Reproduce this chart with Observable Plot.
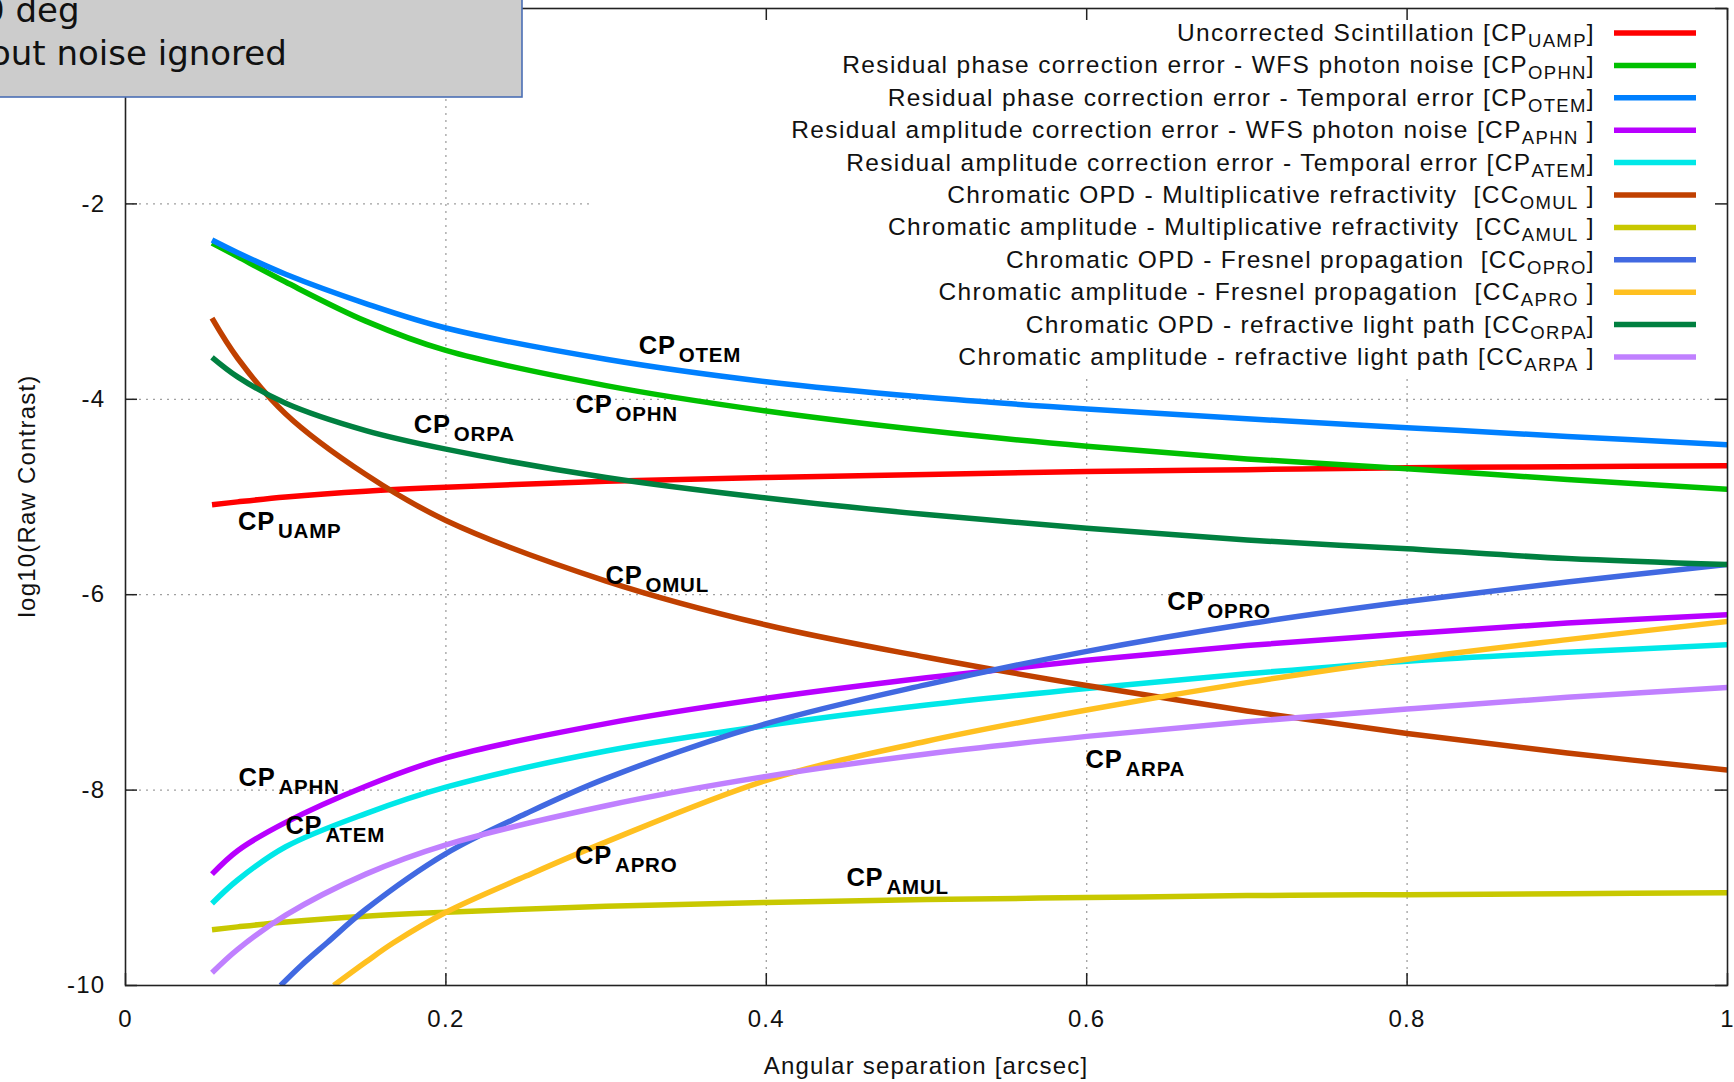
<!DOCTYPE html>
<html><head><meta charset="utf-8">
<script src="https://cdn.jsdelivr.net/npm/d3@7"></script>
<script src="https://cdn.jsdelivr.net/npm/@observablehq/plot@0.6"></script>
<style>
html,body{margin:0;padding:0;background:#fff;}
#wrap{position:relative;width:1734px;height:1082px;overflow:hidden;}
#note{position:absolute;left:0;top:0;}
</style></head>
<body><div id="wrap"><div id="chart"></div></div>
<script>
// ---- data ----
const xs = [0.054, 0.07, 0.1, 0.15, 0.2, 0.3, 0.4, 0.5, 0.6, 0.7, 0.8, 0.9, 1.0];
const uamp = [-5.08, -5.05, -5.00, -4.94, -4.90, -4.84, -4.80, -4.77, -4.74, -4.72, -4.70, -4.69, -4.68];
const ophn = [-2.40, -2.54, -2.80, -3.20, -3.50, -3.86, -4.12, -4.32, -4.48, -4.61, -4.71, -4.82, -4.92];
const otem = [-2.37, -2.50, -2.72, -3.02, -3.27, -3.59, -3.82, -3.98, -4.10, -4.20, -4.29, -4.38, -4.465];
const aphn = [-8.86, -8.62, -8.33, -7.96, -7.67, -7.32, -7.06, -6.85, -6.67, -6.52, -6.40, -6.29, -6.205];
const atem = [-9.16, -8.92, -8.58, -8.24, -7.97, -7.60, -7.34, -7.13, -6.96, -6.81, -6.68, -6.59, -6.513];
const omul = [-3.17, -3.58, -4.15, -4.77, -5.24, -5.86, -6.31, -6.64, -6.93, -7.19, -7.42, -7.62, -7.795];
const amul = [-9.43, -9.40, -9.35, -9.29, -9.25, -9.19, -9.15, -9.12, -9.10, -9.08, -9.07, -9.06, -9.05];
const oproX = [0.0968, 0.11, 0.126, 0.15, 0.2, 0.25, 0.3, 0.4, 0.5, 0.6, 0.7, 0.8, 0.9, 1.0];
const opro = [-10.0, -9.79, -9.56, -9.22, -8.65, -8.24, -7.88, -7.32, -6.92, -6.58, -6.30, -6.07, -5.87, -5.69];
const aproX = [0.130, 0.15, 0.1675, 0.2, 0.25, 0.3, 0.4, 0.5, 0.6, 0.7, 0.8, 0.9, 1.0];
const apro = [-10.0, -9.76, -9.56, -9.25, -8.88, -8.53, -7.90, -7.50, -7.18, -6.90, -6.66, -6.46, -6.274];
const orpa = [-3.57, -3.77, -4.04, -4.32, -4.51, -4.80, -5.01, -5.18, -5.32, -5.44, -5.53, -5.63, -5.692];
const arpa = [-9.87, -9.63, -9.28, -8.86, -8.56, -8.16, -7.86, -7.63, -7.45, -7.30, -7.17, -7.05, -6.95];

const codes = ["UAMP","OPHN","OTEM","APHN","ATEM","OMUL","AMUL","OPRO","APRO","ORPA","ARPA"];
const colors = ["#ff0000","#00c000","#0080ff","#b800ff","#00e8e8","#c04000","#c8c800","#4169e1","#ffc020","#008040","#c080ff"];
const legendMain = [
  "Uncorrected Scintillation [CP",
  "Residual phase correction error - WFS photon noise [CP",
  "Residual phase correction error - Temporal error [CP",
  "Residual amplitude correction error - WFS photon noise [CP",
  "Residual amplitude correction error - Temporal error [CP",
  "Chromatic OPD - Multiplicative refractivity  [CC",
  "Chromatic amplitude - Multiplicative refractivity  [CC",
  "Chromatic OPD - Fresnel propagation  [CC",
  "Chromatic amplitude - Fresnel propagation  [CC",
  "Chromatic OPD - refractive light path [CC",
  "Chromatic amplitude - refractive light path [CC"];
const legendTail = ["]","]","]"," ]","]"," ]"," ]","]"," ]","]"," ]"];
const labelX = [0.0702, 0.2809, 0.3204, 0.0705, 0.0998, 0.2996, 0.450, 0.6503, 0.2806, 0.180, 0.5992];
const labelY = [-5.334, -4.137, -3.539, -7.956, -8.452, -5.886, -8.978, -6.158, -8.753, -4.342, -7.778];
const xTicks = [0, 0.2, 0.4, 0.6, 0.8, 1];
const yTicks = [-10, -8, -6, -4, -2, 0];
const yTickLabels = [-10, -8, -6, -4, -2];
const xGrid = [0.2, 0.4, 0.6, 0.8];
const yGrid = [-8, -6, -4, -2];

// ---- build table ----
const yByCode = {UAMP: uamp, OPHN: ophn, OTEM: otem, APHN: aphn, ATEM: atem, OMUL: omul, AMUL: amul, OPRO: opro, APRO: apro, ORPA: orpa, ARPA: arpa};
const xByCode = {OPRO: oproX, APRO: aproX};
const rows = [];
codes.forEach((c) => {
  const xv = xByCode[c] || xs;
  yByCode[c].forEach((v, j) => rows.push({code: c, x: xv[j], y: v}));
});
const labels = codes.map((c, i) => ({code: c, x: labelX[i], y: labelY[i]}));

const FONT = "'Liberation Sans', Arial, Helvetica, sans-serif";
const cpSize = 25.5, subSize = 20.5;

const chart = Plot.plot({
  width: 1734, height: 1082,
  marginLeft: 125, marginRight: 7, marginTop: 8, marginBottom: 97,
  x: {domain: [0, 1]},
  y: {domain: [-10, 0]},
  color: {domain: codes, range: colors},
  style: {fontFamily: FONT, color: "#111", background: "#fff", overflow: "visible"},
  marks: [
    Plot.ruleX(xGrid, {x: d => d, stroke: "#a0a0a0", strokeWidth: 1.3, strokeDasharray: "2,5"}),
    Plot.ruleY(yGrid, {y: d => d, stroke: "#a0a0a0", strokeWidth: 1.3, strokeDasharray: "2,5"}),
    Plot.line(rows, {x: "x", y: "y", z: "code", stroke: "code", strokeWidth: 5.5, curve: "catmull-rom", strokeLinecap: "butt", clip: true}),
    Plot.text(labels, {x: "x", y: "y", text: () => "CP", textAnchor: "start", fontSize: cpSize, fontWeight: "bold", fill: "#000", dy: -0.32 * cpSize}),
    Plot.text(labels, {x: "x", y: "y", text: "code", textAnchor: "start", fontSize: subSize, fontWeight: "bold", fill: "#000", dx: 40, dy: 8 - 0.32 * subSize}),
    Plot.tickX(xTicks, {x: d => d, insetTop: 965, stroke: "#222", strokeWidth: 1.5}),
    Plot.tickX(xTicks, {x: d => d, insetBottom: 965, stroke: "#222", strokeWidth: 1.5}),
    Plot.tickY(yTicks, {y: d => d, insetRight: 1590, stroke: "#222", strokeWidth: 1.5}),
    Plot.tickY(yTicks, {y: d => d, insetLeft: 1590, stroke: "#222", strokeWidth: 1.5}),
    Plot.frame({stroke: "#222", strokeWidth: 1.6}),
    Plot.axisX(xTicks, {tickSize: 0, tickPadding: 24, fontSize: 24, tickFormat: d => String(d), label: null}),
    Plot.axisY(yTickLabels, {tickSize: 0, tickPadding: 20, fontSize: 24, tickFormat: d => String(d), label: null})
  ]
});
document.getElementById("chart").appendChild(chart);

const svg = d3.select(chart);
svg.selectAll('g[aria-label="x-axis tick label"] text, g[aria-label="y-axis tick label"] text').attr("letter-spacing", "1.3px");
svg.selectAll('g[aria-label="text"] text').attr("letter-spacing", "0.8px");

// opaque key background behind the curves
const ruleGroups = svg.selectAll('g[aria-label="rule"]').nodes();
const lastRule = ruleGroups[ruleGroups.length - 1];
const bg = document.createElementNS("http://www.w3.org/2000/svg", "rect");
bg.setAttribute("x", 594); bg.setAttribute("y", 9); bg.setAttribute("width", 1132); bg.setAttribute("height", 365);
bg.setAttribute("fill", "#fff");
lastRule.after(bg);

// legend
const lg = svg.append("g").attr("font-family", FONT).attr("font-size", 24.5).attr("fill", "#111").attr("letter-spacing", "1.35px");
codes.forEach((c, i) => {
  const yb = 41 + 32.4 * i;
  const t = lg.append("text").attr("x", 1595).attr("y", yb).attr("text-anchor", "end").style("white-space", "pre");
  t.append("tspan").text(legendMain[i]);
  t.append("tspan").attr("font-size", 18.5).attr("dy", 6).text(c);
  t.append("tspan").attr("dy", -6).text(legendTail[i]);
  lg.append("line").attr("x1", 1614).attr("x2", 1696).attr("y1", yb - 8).attr("y2", yb - 8)
    .attr("stroke", colors[i]).attr("stroke-width", 5.5);
});

// axis titles
svg.append("text").attr("x", 926).attr("y", 1074).attr("text-anchor", "middle")
  .attr("font-family", FONT).attr("font-size", 24).attr("letter-spacing", "1.2px").attr("fill", "#111")
  .text("Angular separation [arcsec]");
svg.append("text").attr("transform", "translate(35,496) rotate(-90)").attr("text-anchor", "middle")
  .attr("font-family", FONT).attr("font-size", 24).attr("letter-spacing", "1.2px").attr("fill", "#111")
  .text("log10(Raw Contrast)");

// annotation box (partially outside the page at left/top, as in the reference)
const note = d3.select("#wrap").append("svg").attr("id", "note").attr("width", 530).attr("height", 110);
note.append("rect").attr("x", -5).attr("y", -5).attr("width", 527).attr("height", 102)
  .attr("fill", "#cccccc").attr("stroke", "#4a6fb5").attr("stroke-width", 1.6);
note.append("text").attr("x", -17).attr("y", 22).attr("font-family", "'DejaVu Sans'").attr("font-size", 34).attr("fill", "#111").text("0 deg");
note.append("text").attr("x", -10).attr("y", 65).attr("font-family", "'DejaVu Sans'").attr("font-size", 34).attr("fill", "#111").text("out noise ignored");
</script>
</body></html>
